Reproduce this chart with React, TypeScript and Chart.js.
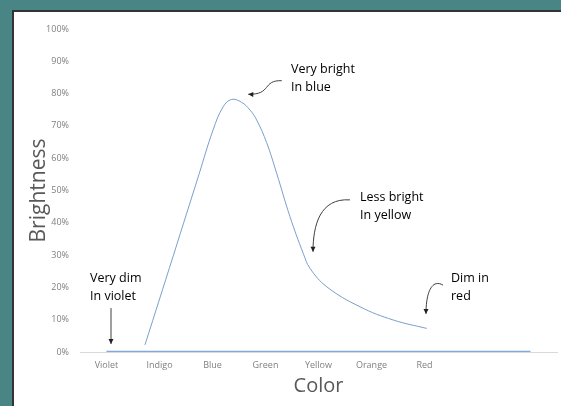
import { useEffect, useRef } from 'react';
import { Chart, registerables } from 'chart.js';

Chart.register(...registerables);

// ---- data ----
const categories = ['Violet', 'Indigo', 'Blue', 'Green', 'Yellow', 'Orange', 'Red', '', ''];
const baseline = [0, 0, 0, 0, 0, 0, 0, 0, 0];
// spectrum curve, x in category-band units (category i centred at i + 0.5)
const curveX = [1.226, 1.764, 2.245, 2.51, 2.70, 2.862, 3.05, 3.208, 3.334, 3.522, 3.711, 3.962, 4.213, 4.34, 4.655, 5.283, 5.911, 6.542];
const curveY = [2.2, 30, 55, 68.7, 75.9, 78.2, 77.3, 74.9, 71.8, 64.8, 55.3, 41.9, 30.5, 25.9, 20.2, 14.0, 9.9, 7.3];
const yTickStep = 10;

// annotations (positions in data units: x band units, y %)
const noteLines = [
  ['Very bright', 'In blue'],
  ['Less bright', 'In yellow'],
  ['Dim in', 'red'],
  ['Very dim', 'In violet'],
];
const noteX = [3.98, 5.283, 7.0, 0.189];
const noteY = [86.28, 46.84, 21.77, 21.77];
const arrowPaths: number[][][] = [
  [[3.806, 84.0], [3.434, 84.2], [3.623, 79.6], [3.175, 79.8]],
  [[5.094, 47.1], [4.528, 47.7], [4.396, 39.3], [4.396, 31.0]],
  [[6.849, 20.7], [6.66, 22.6], [6.528, 19.2], [6.528, 11.8]],
  [[0.585, 13.6], [0.585, 2.5]],
];

const FONT = '"Open Sans", "Noto Sans", sans-serif';

const backgroundPlugin = {
  id: 'panelBg',
  beforeDraw(chart: any) {
    const { ctx, width, height } = chart;
    ctx.save();
    ctx.fillStyle = '#488584';
    ctx.fillRect(0, 0, width, height);
    ctx.fillStyle = '#333333';
    ctx.fillRect(12, 10, width - 12, height - 10);
    ctx.fillStyle = '#ffffff';
    ctx.fillRect(14, 12, width - 14, height - 12);
    ctx.restore();
  },
};

const notesPlugin = {
  id: 'notes',
  afterDraw(chart: any) {
    const { ctx } = chart;
    const xs = chart.scales.x;
    const ys = chart.scales.y;
    ctx.save();
    ctx.font = `12.5px ${FONT}`;
    ctx.fillStyle = '#000000';
    ctx.textAlign = 'left';
    ctx.textBaseline = 'alphabetic';
    noteLines.forEach((lines, k) => {
      const px = xs.getPixelForValue(noteX[k]);
      const py = ys.getPixelForValue(noteY[k]);
      lines.forEach((l, i) => ctx.fillText(l, px, py + i * 18));
    });
    ctx.strokeStyle = '#404040';
    ctx.fillStyle = '#202020';
    ctx.lineWidth = 1;
    arrowPaths.forEach((path) => {
      const p = path.map(([vx, vy]) => [xs.getPixelForValue(vx), ys.getPixelForValue(vy)]);
      ctx.beginPath();
      ctx.moveTo(p[0][0], p[0][1]);
      if (p.length === 4) {
        ctx.bezierCurveTo(p[1][0], p[1][1], p[2][0], p[2][1], p[3][0], p[3][1]);
      } else {
        ctx.lineTo(p[1][0], p[1][1]);
      }
      ctx.stroke();
      const [ex, ey] = p[p.length - 1];
      const [bx, by] = p[p.length - 2];
      const ang = Math.atan2(ey - by, ex - bx);
      const L = 5, W = 2.5;
      ctx.beginPath();
      ctx.moveTo(ex, ey);
      ctx.lineTo(ex - L * Math.cos(ang) + W * Math.sin(ang), ey - L * Math.sin(ang) - W * Math.cos(ang));
      ctx.lineTo(ex - L * Math.cos(ang) - W * Math.sin(ang), ey - L * Math.sin(ang) + W * Math.cos(ang));
      ctx.closePath();
      ctx.fill();
    });
    ctx.restore();
  },
};

export default function App() {
  const ref = useRef<HTMLCanvasElement | null>(null);

  useEffect(() => {
    if (!ref.current) return;
    const chart = new Chart(ref.current, {
      type: 'line',
      data: {
        datasets: [
          {
            data: categories.map((_, i) => ({ x: i + 0.5, y: baseline[i] })),
            borderColor: '#7fa9df',
            borderWidth: 2.5,
            pointRadius: 0,
          },
          {
            data: curveX.map((x, i) => ({ x, y: curveY[i] })),
            borderColor: '#7b9fcb',
            borderWidth: 1,
            pointRadius: 0,
            tension: 0.4,
          },
        ],
      },
      options: {
        animation: false,
        responsive: false,
        devicePixelRatio: 1,
        layout: { padding: { left: 0, right: 4, top: 29, bottom: 0 } },
        plugins: { legend: { display: false }, tooltip: { enabled: false } },
        scales: {
          x: {
            type: 'linear',
            min: 0,
            max: categories.length,
            afterBuildTicks: (s: any) => {
              s.ticks = categories.map((_, i) => ({ value: i + 0.5 }));
            },
            afterFit: (s: any) => {
              s.height = 54;
            },
            ticks: {
              callback: (_v: any, i: number) => categories[i],
              color: '#7f7f7f',
              font: { size: 9, family: FONT },
              padding: 8,
              maxRotation: 0,
              autoSkip: false,
            },
            grid: { display: false, drawTicks: false },
            border: { display: true, color: '#d9d9d9', width: 1 },
            title: {
              display: true,
              text: 'Color',
              color: '#595959',
              font: { size: 20, family: FONT },
              padding: { top: 0, bottom: 8 },
            },
          },
          y: {
            type: 'linear',
            min: 0,
            max: 100,
            afterFit: (s: any) => {
              s.width = 80;
            },
            ticks: {
              stepSize: yTickStep,
              callback: (v: any) => `${v}%`,
              color: '#7f7f7f',
              font: { size: 9, family: FONT },
              padding: 11,
            },
            grid: { display: false, drawTicks: false },
            border: { display: false },
            title: {
              display: true,
              text: 'Brightness',
              color: '#595959',
              font: { size: 21, family: FONT },
              padding: { top: 26, bottom: 0 },
            },
          },
        },
      },
      plugins: [backgroundPlugin, notesPlugin],
    } as any);
    return () => chart.destroy();
  }, []);

  return (
    <div style={{ position: 'fixed', left: 0, top: 0, width: 561, height: 406 }}>
      <canvas ref={ref} width={561} height={406} style={{ display: 'block', width: 561, height: 406 }} />
    </div>
  );
}
